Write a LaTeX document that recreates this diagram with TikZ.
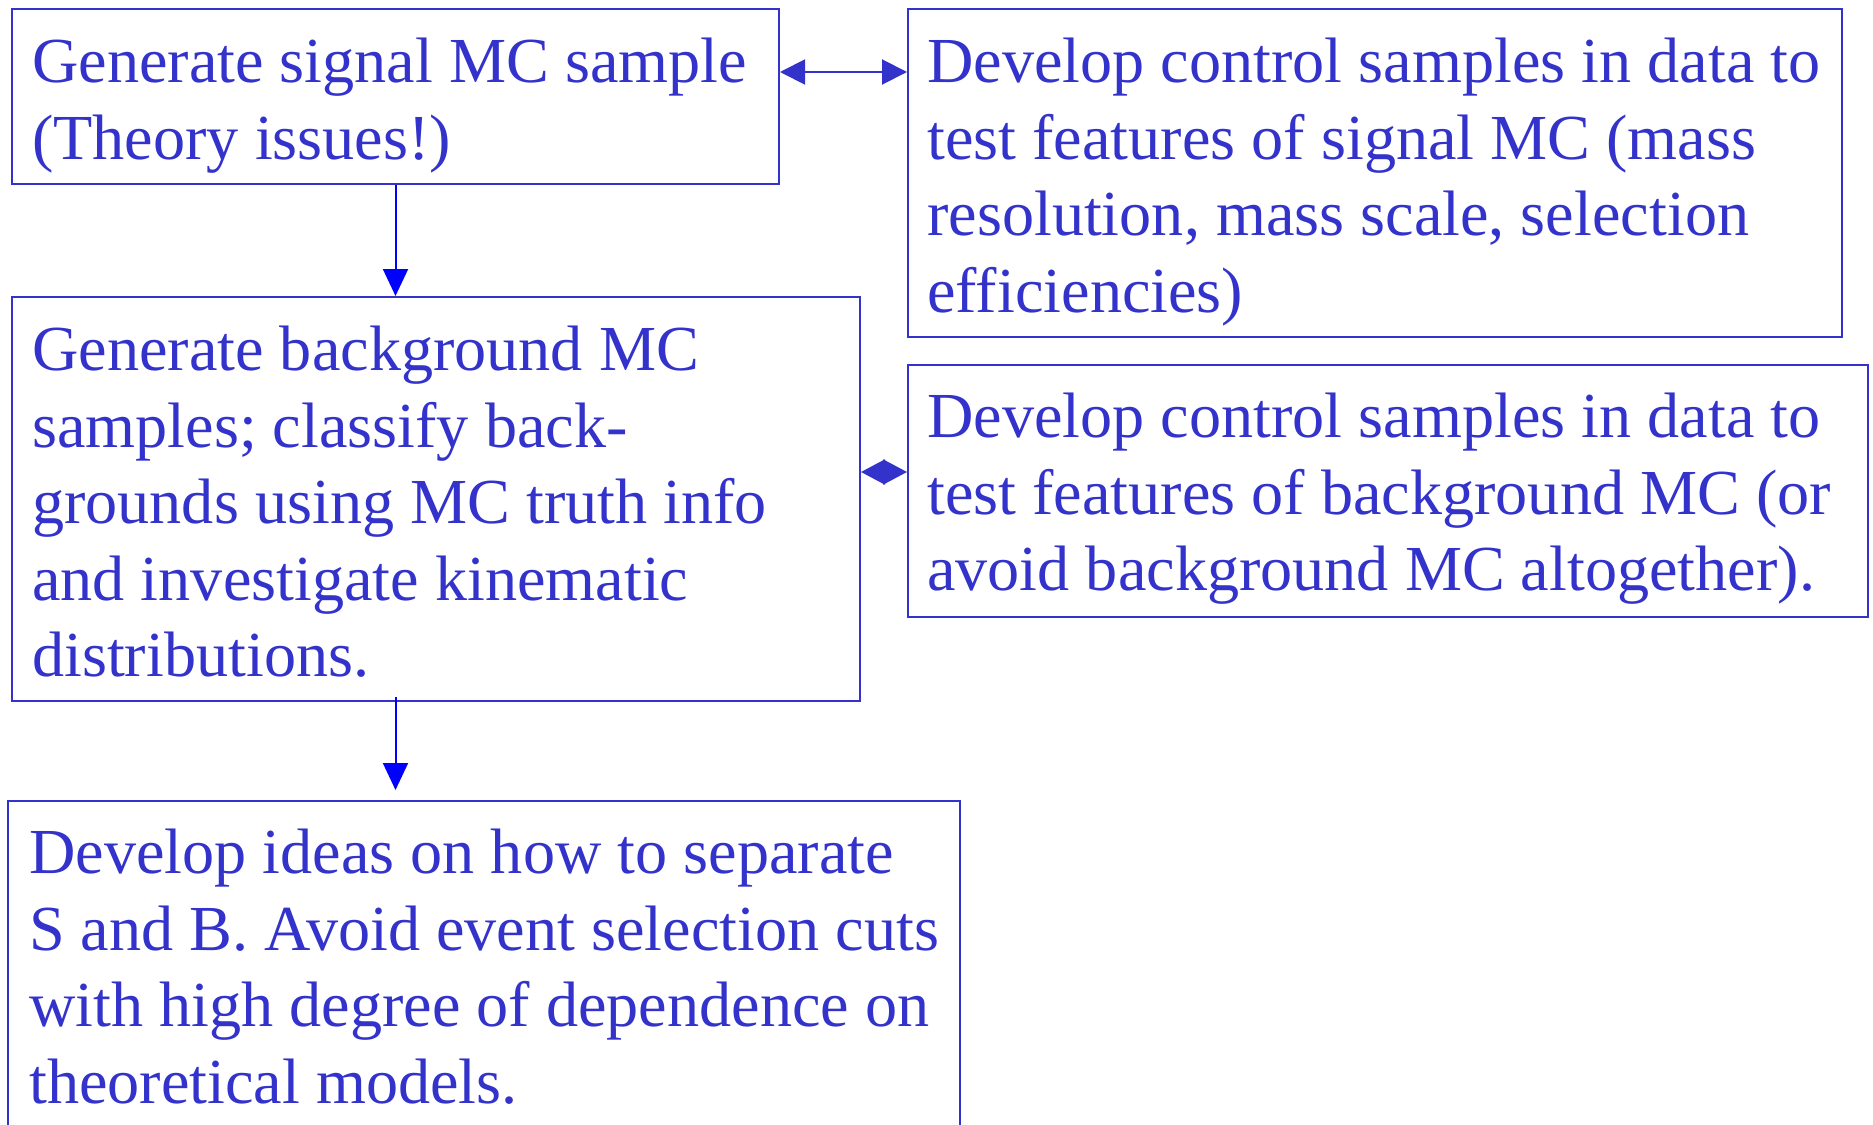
\documentclass[tikz,border=0pt]{standalone}
\usepackage{fontspec}
\setmainfont{Liberation Serif}
\usetikzlibrary{arrows.meta}
\definecolor{txtblue}{RGB}{51,51,204}
\definecolor{arrblue}{RGB}{0,0,255}
\tikzset{
  box/.style={draw=txtblue, line width=2pt, inner sep=0pt, anchor=north west},
  txt/.style={text=txtblue, inner sep=0pt, anchor=north west, align=left,
    font=\fontsize{64.2}{76.5}\selectfont},
  harr/.style={draw=txtblue, line width=2pt, {Triangle[length=25pt,width=25pt]}-{Triangle[length=25pt,width=25pt]}},
  darr/.style={draw=txtblue, line width=2pt, {Triangle[length=24pt,width=25pt]}-{Triangle[length=24pt,width=25pt]}},
  varr/.style={draw=arrblue, line width=2pt, -{Triangle[length=27pt,width=25pt]}}
}
\begin{document}
\begin{tikzpicture}[x=1pt,y=-1pt]
\useasboundingbox (0,0) rectangle (1873,1124);
\clip (0,0) rectangle (1873,1124);
% boxes
\node[box, minimum width=767pt, minimum height=175pt] (b1) at (11,8) {};
\node[box, minimum width=934pt, minimum height=328pt] (b2) at (907,8) {};
\node[box, minimum width=848pt, minimum height=404pt] (b3) at (11,296) {};
\node[box, minimum width=960pt, minimum height=252pt] (b4) at (907,364) {};
\node[box, minimum width=952pt, minimum height=340pt] (b5) at (7,800) {};
% texts
\node[txt] (t1) at (32,28.8) {\strut Generate signal MC sample\\(Theory issues!)};
\node[txt] (t2) at (927,28.8) {\strut Develop control samples in data to\\test features of signal MC (mass\\resolution, mass scale, selection\\efficiencies)};
\node[txt] (t3) at (32,316.8) {\strut Generate background MC\\samples; classify back-\\grounds using MC truth info\\and investigate kinematic\\distributions.};
\node[txt] (t4) at (927,383.8) {\strut Develop control samples in data to\\test features of background MC (or\\avoid background MC altogether).};
\node[txt] (t5) at (29,819.8) {\strut Develop ideas on how to separate\\S and B. Avoid event selection cuts\\with high degree of dependence on\\theoretical models.};
% connectors
\draw[harr] ([yshift=-64pt]b1.north east) -- ([yshift=-64pt]b2.north west);
\draw[darr] ([yshift=-176pt]b3.north east) -- ([yshift=-108pt]b4.north west);
\coordinate (a1s) at (b1.south);
\coordinate (a1e) at (b1.south |- b3.north);
\draw[varr] (a1s) -- (a1e);
\coordinate (a2s) at (b1.south |- b3.south);
\coordinate (a2e) at (b1.south |- b5.north);
\draw[varr] ([yshift=5pt]a2s) -- ([yshift=10pt]a2e);
\end{tikzpicture}
\end{document}
